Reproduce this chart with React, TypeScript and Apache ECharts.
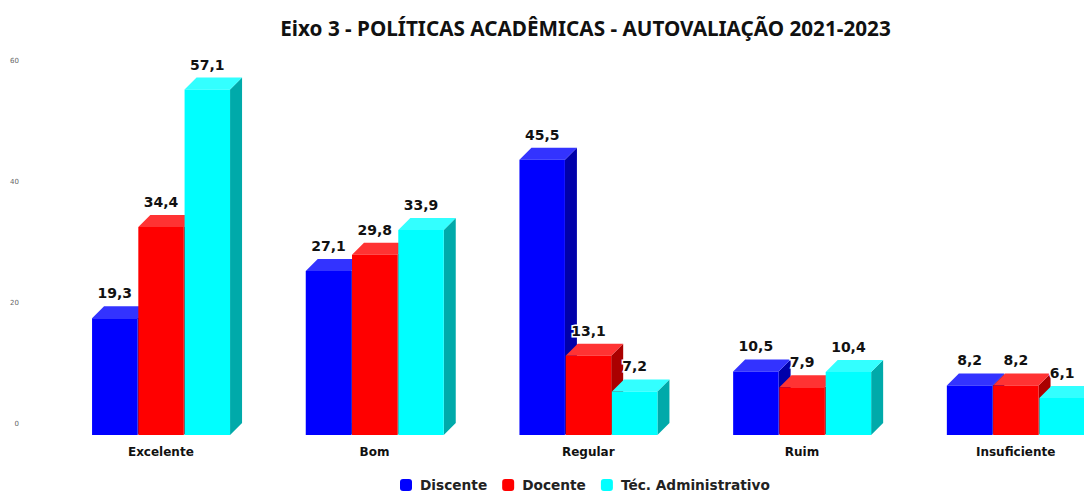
import React, { useEffect, useRef } from "react";
import * as echarts from "echarts";

const titleText = "Eixo 3 - POLÍTICAS ACADÊMICAS - AUTOVALIAÇÃO 2021-2023";
const categories = ["Excelente", "Bom", "Regular", "Ruim", "Insuficiente"];
const discente = [19.3, 27.1, 45.5, 10.5, 8.2];
const docente = [34.4, 29.8, 13.1, 7.9, 8.2];
const tecnico = [57.1, 33.9, 7.2, 10.4, 6.1];
const seriesNames = ["Discente", "Docente", "Téc. Administrativo"];
const seriesValues = [discente, docente, tecnico];
const FONT = "'DejaVu Sans', sans-serif";
const palette = [
  { front: "#0000ff", top: "#3333ff", side: "#0000aa" },
  { front: "#ff0000", top: "#ff3333", side: "#aa0000" },
  { front: "#00ffff", top: "#33ffff", side: "#00aaaa" },
];
const DEPTH = 12;

function makeSeries(idx: number) {
  const colors = palette[idx];
  return {
    type: "custom",
    name: seriesNames[idx],
    itemStyle: { color: colors.front },
    encode: { x: 0, y: 1 },
    data: seriesValues[idx].map((v, i) => [i, v]),
    renderItem: (_p: any, api: any) => {
      const val = api.value(1);
      const [cx, y1] = api.coord([api.value(0), val]);
      const [, y0] = api.coord([api.value(0), 0]);
      const band = api.size([1, 0])[0];
      const w = band * 0.2165;
      const x0 = cx - w * 1.5 + idx * w + 0.6;
      const x1 = x0 + w - 0.8;
      return {
        type: "group",
        children: [
          {
            type: "polygon",
            shape: { points: [[x1, y1], [x1 + DEPTH, y1 - DEPTH], [x1 + DEPTH, y0 - DEPTH], [x1, y0]] },
            style: { fill: colors.side },
          },
          {
            type: "polygon",
            shape: { points: [[x0, y1], [x0 + DEPTH, y1 - DEPTH], [x1 + DEPTH, y1 - DEPTH], [x1, y1]] },
            style: { fill: colors.top },
          },
          {
            type: "rect",
            shape: { x: x0, y: y1, width: x1 - x0, height: y0 - y1 },
            style: { fill: colors.front },
          },
          {
            type: "text",
            z2: 100,
            style: {
              x: (x0 + x1) / 2,
              y: y1 - 25,
              text: val.toFixed(1).replace(".", ","),
              fill: "#111",
              stroke: "#ffffff",
              lineWidth: 3,
              font: `bold 14px ${FONT}`,
              align: "center",
              verticalAlign: "middle",
            },
          },
        ],
      };
    },
  };
}

export default function App() {
  const ref = useRef<HTMLDivElement>(null);
  useEffect(() => {
    document.body.style.margin = "0";
    const chart = echarts.init(ref.current!, undefined, { renderer: "svg" });
    chart.setOption({
      animation: false,
      backgroundColor: "#ffffff",
      title: {
        text: titleText,
        left: 580.5,
        top: 12,
        textAlign: "center",
        textStyle: { fontFamily: "'Noto Sans', sans-serif", fontWeight: "bold", fontSize: 20.7, color: "#111" },
      },
      legend: {
        data: seriesNames,
        left: 395,
        top: 473,
        icon: "roundRect",
        itemWidth: 12,
        itemHeight: 12,
        itemGap: 15,
        textStyle: { fontFamily: FONT, fontWeight: "bold", fontSize: 13.7, color: "#222", padding: [0, 0, 0, 3] },
      },
      grid: { left: 54, top: 72, width: 1068.5, height: 363, containLabel: false },
      xAxis: {
        type: "category",
        data: categories,
        axisLine: { show: false },
        axisTick: { show: false },
        axisLabel: { fontFamily: FONT, fontWeight: "bold", fontSize: 12, color: "#111", margin: 11 },
      },
      yAxis: {
        type: "value",
        min: 0,
        max: 60,
        interval: 20,
        axisLine: { show: false },
        axisTick: { show: false },
        splitLine: { show: false },
        axisLabel: { fontFamily: FONT, fontSize: 7, color: "#666", margin: 35, verticalAlign: "bottom", lineHeight: 22 },
      },
      series: [makeSeries(0), makeSeries(1), makeSeries(2)],
    });
    return () => chart.dispose();
  }, []);
  return (
    <div style={{ width: 1084, height: 492, overflow: "hidden" }}>
      <div ref={ref} style={{ width: 1130, height: 492 }} />
    </div>
  );
}
